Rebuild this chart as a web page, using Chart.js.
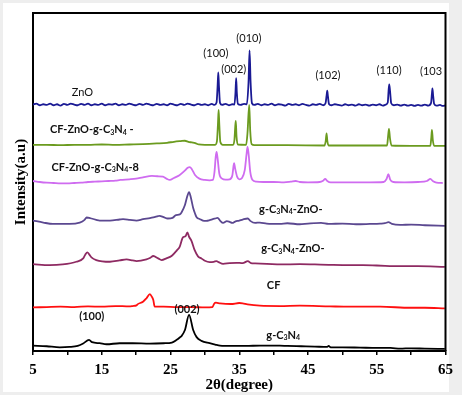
<!DOCTYPE html>
<html><head><meta charset="utf-8">
<script src="https://cdn.jsdelivr.net/npm/chart.js@4.4.1/dist/chart.umd.min.js"></script>
<style>html,body{margin:0;padding:0;background:#eeeeee;overflow:hidden}#wrap{width:462px;height:395px;position:relative}</style>
</head><body><div id="wrap"><canvas id="c" width="462" height="395"></canvas></div>
<script>
// 2θ range and tick labels
const xTickLabels = [5,15,25,35,45,55,65];
const xTitle = '2θ(degree)';
const yTitle = 'Intensity(a.u)';

// Series: [2θ, intensity (a.u., offset-stacked)]
const znoSeries = [[5,72.9],[5.5,73.2],[6,72.7],[6.5,73.0],[7,72.8],[7.5,73.2],[8,72.7],[8.5,73.0],[9,72.6],[9.5,73.1],[10,72.8],[10.5,73.2],[11,72.9],[11.5,72.7],[12,73.1],[12.5,72.8],[13,73.2],[13.5,72.7],[14,73.0],[14.5,72.8],[15,73.2],[15.5,72.7],[16,73.0],[16.5,72.9],[17,73.2],[17.5,72.7],[18,73.0],[18.5,72.8],[19,73.2],[19.5,72.9],[20,72.7],[20.5,73.1],[21,72.8],[21.5,73.2],[22,72.9],[22.5,72.7],[23,73.1],[23.5,72.8],[24,73.0],[24.5,72.7],[25,73.2],[25.5,72.9],[26,72.7],[26.5,73.1],[27,72.8],[27.5,73.2],[28,72.9],[28.5,72.7],[29,73.1],[29.5,72.8],[30,73.0],[30.5,72.7],[31,73.1],[31.4,72.8],[31.7,73.5],[31.85,78.3],[31.95,82.4],[32.05,78.3],[32.2,73.4],[32.5,72.8],[33,73.1],[33.5,72.7],[34,73.0],[34.3,72.9],[34.45,76.4],[34.55,80.7],[34.65,76.4],[34.8,73.1],[35.2,72.8],[35.7,73.1],[36.1,73.0],[36.35,79.5],[36.5,88.9],[36.65,79.5],[36.85,73.3],[37.2,72.8],[37.7,73.1],[38.2,72.7],[38.7,73.0],[39.2,72.8],[39.7,73.2],[40.2,72.7],[40.7,73.0],[41.2,72.9],[41.7,72.6],[42.2,73.1],[42.7,72.8],[43.2,73.0],[43.7,72.7],[44.2,73.1],[44.7,72.8],[45.2,72.6],[45.7,73.0],[46.2,72.8],[46.7,73.1],[47.2,72.7],[47.55,73.3],[47.7,75.5],[47.8,77.0],[47.9,75.3],[48.05,73.1],[48.4,72.7],[48.9,73.0],[49.4,72.8],[49.9,72.6],[50.4,73.0],[50.9,72.7],[51.4,72.9],[51.9,72.6],[52.4,73.0],[52.9,72.7],[53.4,72.9],[53.9,72.6],[54.4,72.9],[54.9,72.7],[55.4,73.0],[55.9,72.6],[56.3,72.9],[56.6,73.5],[56.72,77.0],[56.82,78.9],[56.95,76.5],[57.1,73.3],[57.5,72.7],[58,72.9],[58.5,72.6],[59,72.9],[59.5,72.6],[60,72.8],[60.5,72.5],[61,72.8],[61.5,72.6],[62,72.9],[62.5,72.6],[62.9,73.4],[63.02,76.0],[63.1,77.7],[63.2,75.6],[63.35,73.1],[63.7,72.6],[64.2,72.8],[64.6,72.5],[65,72.7]];

const cfZnoGcnSeries = [[5,61.0],[7,61.0],[9,60.9],[11,61.0],[13,61.0],[15,61.1],[17,61.0],[19,61.1],[21,61.2],[23,61.4],[24.5,61.6],[25.5,61.9],[26.5,62.1],[27.1,62.2],[27.6,61.9],[28.1,61.7],[28.6,61.5],[29.1,61.1],[30,61.0],[31.5,61.0],[31.75,62.0],[31.9,67.0],[32.0,71.3],[32.1,67.0],[32.25,61.8],[32.6,61.0],[34.1,61.0],[34.3,62.5],[34.42,66.5],[34.5,68.1],[34.6,63.5],[34.8,61.1],[36.0,61.0],[36.2,64.5],[36.45,72.8],[36.6,65.0],[36.8,61.2],[37.2,60.9],[42,60.9],[47.4,60.8],[47.58,62.2],[47.7,64.4],[47.82,62.0],[48.0,60.8],[52,60.8],[56.5,60.8],[56.65,63.5],[56.78,65.7],[56.92,63.0],[57.15,60.8],[60,60.7],[62.8,60.7],[62.93,63.0],[63.03,65.4],[63.15,62.5],[63.35,60.7],[65,60.7]];

const cfZnoGcn8Series = [[5,50.3],[6,50.0],[7,49.8],[8,49.7],[9,49.6],[10,49.6],[11,49.7],[12,49.8],[13,50.0],[14,50.1],[15,50.2],[16,50.3],[17,50.4],[17.7,50.6],[19,50.8],[20,51.0],[21,51.4],[22.3,51.8],[23.1,51.7],[23.9,51.6],[24.4,51.0],[24.9,50.6],[25.5,51.2],[26.3,52.0],[27.0,53.2],[27.5,54.2],[27.8,54.4],[28.1,53.8],[28.6,52.0],[29.2,51.0],[30.0,50.6],[30.7,50.5],[31.15,50.6],[31.4,53.0],[31.58,57.5],[31.7,58.9],[31.85,57.0],[32.1,52.5],[32.5,51.0],[33.0,50.7],[33.6,50.8],[34.0,52.0],[34.15,54.5],[34.25,55.6],[34.4,54.0],[34.7,51.5],[35.0,50.8],[35.4,51.2],[35.8,53.5],[36.05,58.0],[36.2,60.4],[36.35,58.5],[36.6,53.0],[36.9,50.7],[37.5,50.1],[38.5,50.0],[40,50.0],[41.5,49.9],[42.5,50.1],[43.2,50.3],[43.8,50.0],[45,49.9],[46.7,50.0],[47.2,50.4],[47.5,50.9],[47.8,50.3],[48.3,49.9],[50,49.9],[52,49.9],[54,49.9],[56.0,50.0],[56.4,50.8],[56.7,52.3],[56.95,50.7],[57.4,50.0],[59,49.9],[61,50.0],[62.3,50.3],[62.8,50.9],[63.2,50.2],[63.7,49.8],[64.6,49.7]];

const gcnZnoASeries = [[5,38.6],[6.5,38.0],[7.9,37.6],[10.3,37.6],[11.8,38.0],[12.5,38.8],[12.8,39.5],[13.2,39.4],[13.5,39.2],[14.2,38.8],[14.7,38.6],[16.2,38.6],[17.6,38.9],[18.1,39.0],[19.1,38.8],[20.05,38.6],[21.0,39.0],[22.0,39.3],[22.5,39.5],[23.2,39.9],[23.4,40.0],[24.0,39.6],[24.6,39.2],[25.3,39.4],[25.8,40.2],[26.35,40.4],[26.6,41.0],[27.1,43.2],[27.4,45.5],[27.7,47.0],[27.95,45.5],[28.3,42.3],[28.6,40.5],[28.8,39.6],[29.3,39.0],[29.7,38.6],[30.2,38.5],[30.7,38.7],[31.15,39.0],[31.5,39.2],[31.85,39.4],[32.2,38.6],[32.65,37.9],[33.2,38.4],[33.6,38.2],[34.0,37.9],[34.4,38.3],[35.0,38.6],[35.5,38.9],[36.25,39.2],[36.6,38.5],[37.3,37.9],[38,38.0],[39,37.7],[40.9,37.6],[42,37.8],[43.8,37.5],[45,37.7],[46.9,37.9],[48,37.6],[50,37.7],[52,37.5],[54,37.6],[55.5,37.7],[56.2,37.8],[56.7,38.1],[57.2,37.6],[58.4,37.3],[60,37.4],[62,37.2],[64.9,37.0]];

const gcnZnoBSeries = [[5,25.7],[7.4,25.4],[9.3,25.6],[11.3,26.4],[12.3,27.4],[12.6,28.5],[12.9,29.2],[13.2,28.5],[13.5,27.7],[14.2,26.9],[16.2,26.4],[17.6,26.8],[18.6,27.1],[19.5,26.8],[20.05,26.6],[21.5,27.1],[22.0,27.5],[22.5,28.1],[23.2,27.4],[23.7,26.9],[24.4,27.4],[25.2,28.2],[25.9,29.7],[26.35,30.9],[26.8,33.6],[27.2,34.0],[27.45,35.1],[27.7,33.8],[28.05,32.6],[28.5,29.9],[29.0,28.0],[29.5,27.4],[30.0,26.7],[30.7,26.3],[31.3,26.4],[31.7,26.6],[32.0,26.3],[32.65,25.8],[33.6,26.0],[34.6,26.1],[35.5,26.0],[36.25,26.6],[36.7,26.0],[37.3,25.9],[39,25.8],[41,25.6],[43.8,25.7],[46,25.6],[48,25.5],[51,25.4],[53,25.4],[55,25.3],[58.4,25.1],[61,25.1],[64.9,24.9]];

const cfSeries = [[5,12.9],[7,13.0],[9,13.1],[11,13.0],[13,13.2],[15,13.1],[17,13.3],[19,13.2],[19.5,13.3],[20.05,13.5],[20.2,13.8],[21.0,14.6],[21.5,15.6],[22.0,16.8],[22.3,16.0],[22.5,15.1],[22.7,13.1],[24,13.1],[26,13.0],[28,13.0],[30,12.9],[31.1,13.0],[31.35,14.0],[31.6,14.3],[32.2,14.1],[33.8,13.9],[35.0,14.2],[35.5,14.1],[36.2,13.8],[38.0,13.4],[40.9,13.3],[43.8,13.4],[48.2,13.2],[51.1,13.1],[55.5,13.1],[59.9,12.8],[62,12.8],[64.9,12.6]];

const gcnSeries = [[5,1.6],[7,1.4],[8.9,1.1],[10.3,1.2],[11.5,1.5],[12.3,2.2],[13.15,3.3],[13.6,2.6],[14.7,2.3],[15.7,2.0],[17.6,2.3],[19.5,2.3],[22,2.2],[24,2.3],[25.2,2.5],[25.9,3.3],[26.35,4.0],[26.6,4.4],[27.1,6.2],[27.7,10.7],[28.3,6.2],[28.8,4.1],[29.5,3.0],[30.7,2.3],[31.5,1.9],[32.2,1.6],[33.8,1.5],[36,1.5],[38,1.6],[40.9,1.6],[42,1.5],[44,1.4],[46,1.3],[47.8,1.2],[48,1.5],[48.3,1.1],[50,1.1],[52.6,1.0],[55,0.9],[57,0.9],[58.4,0.7],[60,0.8],[62,0.7],[64.9,0.6]];

const seriesNames = ['ZnO','CF-ZnO-g-C3N4 -','CF-ZnO-g-C3N4-8','g-C3N4-ZnO- (a)','g-C3N4-ZnO- (b)','CF','g-C3N4'];
const seriesData = [znoSeries, cfZnoGcnSeries, cfZnoGcn8Series, gcnZnoASeries, gcnZnoBSeries, cfSeries, gcnSeries];
const seriesColors = ['#1a1a94','#6b9b1f','#cf6cf0','#5b4890','#8e2a62','#ff1010','#000000'];

// Annotations anchored at (2θ, a.u.); "_n" marks a subscript digit
const annotationTexts = ['ZnO','CF-ZnO-g-C_3N_4 -','CF-ZnO-g-C_3N_4-8','g-C_3N_4-ZnO-','g-C_3N_4-ZnO-','CF','g-C_3N_4','(100)','(002)','(010)','(102)','(110)','(103','(100)','(002)'];
const annotationX = [12.2,13.55,14.05,42.5,42.8,40.0,41.4,31.6,34.2,36.4,47.9,56.8,62.9,13.55,27.4];
const annotationY = [76.6,65.4,54.4,42.0,30.2,19.5,4.7,87.9,83.4,92.6,81.4,82.9,82.6,10.1,12.4];
const annotationBold = [false,true,true,true,true,true,true,false,false,false,false,false,false,true,true];

const FONT_SANS = 'Lato, "Open Sans", "Liberation Sans", sans-serif';
const FONT_SERIF = '"Liberation Serif", "DejaVu Serif", serif';

function drawRich(ctx, str, cx, cy, size, bold) {
  const parts = [];
  const re = /_(\d)/g; let last = 0, m;
  while ((m = re.exec(str)) !== null) {
    if (m.index > last) parts.push([str.slice(last, m.index), false]);
    parts.push([m[1], true]); last = re.lastIndex;
  }
  if (last < str.length) parts.push([str.slice(last), false]);
  const w = bold ? 'bold ' : '';
  const mainF = w + size + 'px ' + FONT_SANS;
  const subF = w + Math.round(size * 0.62) + 'px ' + FONT_SANS;
  let total = 0;
  parts.forEach(p => { ctx.font = p[1] ? subF : mainF; total += ctx.measureText(p[0]).width; });
  let x = cx - total / 2;
  ctx.textBaseline = 'middle'; ctx.textAlign = 'left';
  parts.forEach(p => {
    ctx.font = p[1] ? subF : mainF;
    ctx.fillText(p[0], x, p[1] ? cy + size * 0.28 : cy);
    x += ctx.measureText(p[0]).width;
  });
}

const decorPlugin = {
  id: 'decor',
  beforeDraw(chart) {
    const ctx = chart.ctx;
    ctx.save();
    ctx.fillStyle = '#eeeeee'; ctx.fillRect(0, 0, chart.width, chart.height);
    ctx.fillStyle = '#ffffff'; ctx.fillRect(3, 3, 446, 389);
    ctx.restore();
  },
  afterDatasetsDraw(chart) {
    const ctx = chart.ctx, xs = chart.scales.x, ys = chart.scales.y;
    ctx.save();
    ctx.fillStyle = '#111';
    annotationTexts.forEach((t, i) => {
      drawRich(ctx, t, xs.getPixelForValue(annotationX[i]), ys.getPixelForValue(annotationY[i]), 11, annotationBold[i]);
    });
    const a = chart.chartArea;
    ctx.strokeStyle = '#000'; ctx.lineWidth = 2;
    ctx.beginPath();
    ctx.moveTo(a.left, a.top); ctx.lineTo(a.right, a.top); ctx.lineTo(a.right, a.bottom);
    ctx.stroke();
    ctx.restore();
  }
};

new Chart(document.getElementById('c'), {
  type: 'line',
  data: {
    datasets: seriesData.map((s, i) => ({
      label: seriesNames[i],
      data: s.map(p => ({x: p[0], y: p[1]})),
      borderColor: seriesColors[i],
      borderWidth: 1.8,
      pointRadius: 0,
      fill: false,
      cubicInterpolationMode: 'monotone'
    }))
  },
  options: {
    responsive: false,
    animation: false,
    events: [],
    layout: { padding: { top: 13, right: 16.5, left: 0, bottom: 0 } },
    plugins: { legend: { display: false }, tooltip: { enabled: false } },
    scales: {
      x: {
        type: 'linear', min: 5, max: 65,
        ticks: {
          stepSize: 5, color: '#000', padding: 6, maxRotation: 0, autoSkip: false,
          font: { family: FONT_SERIF, size: 15, weight: 'bold' },
          callback: v => xTickLabels.includes(v) ? String(v) : ''
        },
        grid: { display: true, drawOnChartArea: false, drawTicks: true, tickLength: 4, color: '#000', lineWidth: 1.5 },
        border: { display: true, color: '#000', width: 2 },
        title: { display: true, text: xTitle, color: '#000', padding: { top: 0, bottom: 1 },
          font: { family: FONT_SERIF, size: 15, weight: 'bold' } },
        afterFit: s => { s.height = 44; }
      },
      y: {
        type: 'linear', min: 0, max: 100,
        ticks: { display: false },
        grid: { display: false },
        border: { display: true, color: '#000', width: 2 },
        title: { display: true, text: yTitle, color: '#000', padding: { top: 12, bottom: 0 },
          font: { family: FONT_SERIF, size: 15, weight: 'bold' } },
        afterFit: s => { s.width = 33; }
      }
    }
  },
  plugins: [decorPlugin]
});
</script></body></html>
